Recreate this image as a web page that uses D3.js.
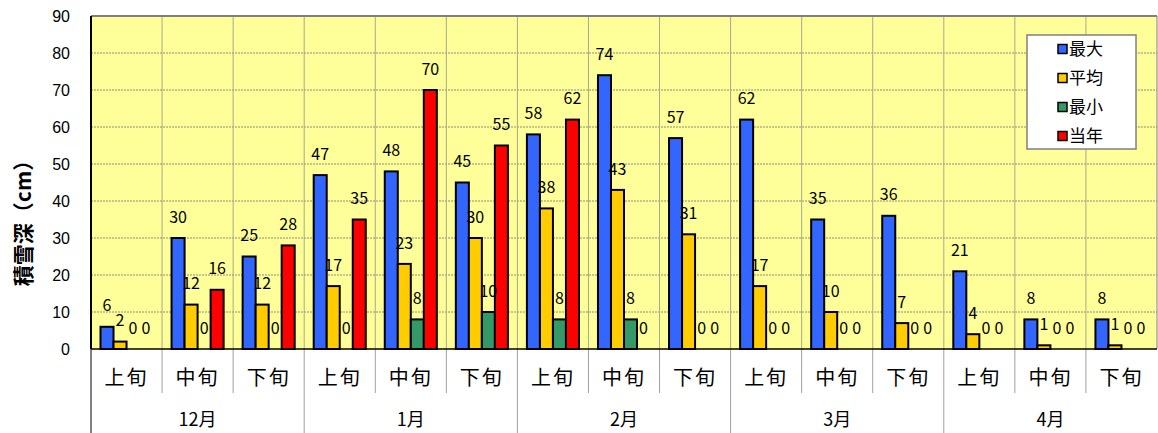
<!DOCTYPE html>
<html>
<head>
<meta charset="utf-8">
<script src="https://cdn.jsdelivr.net/npm/d3@7"></script>
<style>
  body { margin: 0; background: #fff; }
  text { font-family: "Noto Sans CJK JP", "Liberation Sans", sans-serif; }
</style>
</head>
<body>
<svg id="chart" width="1158" height="433"></svg>
<script>
var months = ["12月", "1月", "2月", "3月", "4月"];
var periods = ["上旬", "中旬", "下旬"];
var seriesNames = ["最大", "平均", "最小", "当年"];
var yTicks = [0, 10, 20, 30, 40, 50, 60, 70, 80, 90];

var maxValues  = [6, 30, 25, 47, 48, 45, 58, 74, 57, 62, 35, 36, 21, 8, 8];
var avgValues  = [2, 12, 12, 17, 23, 30, 38, 43, 31, 17, 10, 7, 4, 1, 1];
var minValues  = [0, 0, 0, 0, 8, 10, 8, 8, 0, 0, 0, 0, 0, 0, 0];
var thisValues = [0, 16, 28, 35, 70, 55, 62, 0, 0, 0, 0, 0, 0, 0, 0];

var colors = ["#3366ff", "#ffcc00", "#339966", "#ff0000"];

var svg = d3.select("#chart"),
    margin = {top: 16, right: 1, bottom: 84, left: 91},
    width = +svg.attr("width") - margin.left - margin.right,
    height = +svg.attr("height") - margin.top - margin.bottom;

var cats = [];
months.forEach(function(m) {
    periods.forEach(function(p) { cats.push(m + p); });
});

var data = cats.map(function(c, i) {
    return {cat: c, period: periods[i % 3], month: months[Math.floor(i / 3)],
            values: [maxValues[i], avgValues[i], minValues[i], thisValues[i]]};
});

var x0 = d3.scaleBand().domain(cats).range([0, width]).padding(0);
var x1 = d3.scaleBand().domain(seriesNames).range([0, x0.bandwidth()])
    .paddingInner(0).paddingOuter(0.73);
var y = d3.scaleLinear().domain([0, 90]).range([height, 0]);

var g = svg.append("g")
    .attr("transform", "translate(" + margin.left + "," + margin.top + ")");

// plot background
g.append("rect")
    .attr("width", width)
    .attr("height", height)
    .attr("fill", "#ffff99");

// horizontal grid
g.selectAll(".hgrid")
    .data(yTicks.filter(function(t) { return t > 0 && t < 90; }))
    .enter().append("line")
    .attr("x1", 0).attr("x2", width)
    .attr("y1", function(d) { return y(d); })
    .attr("y2", function(d) { return y(d); })
    .attr("stroke", "#8c8c7a")
    .attr("stroke-width", 1)
    .attr("stroke-dasharray", "2,1");

// vertical grid at category boundaries
g.selectAll(".vgrid")
    .data(cats.slice(1))
    .enter().append("line")
    .attr("x1", function(d) { return x0(d); })
    .attr("x2", function(d) { return x0(d); })
    .attr("y1", 0).attr("y2", height)
    .attr("stroke", "#a8a890")
    .attr("stroke-width", 1);

// plot border top / right
g.append("line").attr("x1", 0).attr("x2", width).attr("y1", 0).attr("y2", 0)
    .attr("stroke", "#808080").attr("stroke-width", 2);
g.append("line").attr("x1", width).attr("x2", width).attr("y1", 0).attr("y2", height)
    .attr("stroke", "#808080").attr("stroke-width", 1);

// bars
var group = g.selectAll(".grp")
    .data(data)
    .enter().append("g")
    .attr("transform", function(d) { return "translate(" + x0(d.cat) + ",0)"; });

group.selectAll("rect")
    .data(function(d) { return d.values.map(function(v, k) { return {key: seriesNames[k], value: v, k: k}; }); })
    .enter().filter(function(d) { return d.value > 0; })
    .append("rect")
    .attr("x", function(d) { return x1(d.key); })
    .attr("y", function(d) { return y(d.value); })
    .attr("width", x1.bandwidth())
    .attr("height", function(d) { return height - y(d.value); })
    .attr("fill", function(d) { return colors[d.k]; })
    .attr("stroke", "#000")
    .attr("stroke-width", 2);

group.selectAll(".label")
    .data(function(d) { return d.values.map(function(v, k) { return {key: seriesNames[k], value: v, k: k}; }); })
    .enter().append("text")
    .attr("x", function(d) { return x1(d.key) + x1.bandwidth() / 2; })
    .attr("y", function(d) { return y(d.value) - 21; })
    .attr("dy", ".35em")
    .attr("text-anchor", "middle")
    .style("font-size", "16px")
    .style("fill", "#000")
    .text(function(d) { return d.value; });

// y axis
g.append("line").attr("x1", 0).attr("x2", 0).attr("y1", 0).attr("y2", height)
    .attr("stroke", "#000").attr("stroke-width", 2);

g.selectAll(".ytick")
    .data(yTicks)
    .enter().append("text")
    .attr("x", -21)
    .attr("y", function(d) { return y(d); })
    .attr("dy", ".35em")
    .attr("text-anchor", "end")
    .style("font-family", "'Liberation Sans', Arial, sans-serif")
    .style("font-size", "16px")
    .text(function(d) { return d; });

svg.append("text")
    .attr("transform", "translate(31,218) rotate(-90)")
    .attr("text-anchor", "middle")
    .style("font-size", "21px")
    .style("font-weight", "bold")
    .text("積雪深（cm）");

// category axis
var axisG = g.append("g").attr("transform", "translate(0," + height + ")");

axisG.selectAll(".subdiv")
    .data(cats)
    .enter().append("line")
    .attr("x1", function(d) { return x0(d); })
    .attr("x2", function(d) { return x0(d); })
    .attr("y1", 0)
    .attr("y2", function(d, i) { return i % 3 === 0 ? margin.bottom : 44; })
    .attr("stroke", "#a0a0a0")
    .attr("stroke-width", 1);

axisG.append("line").attr("x1", 0).attr("x2", 0).attr("y1", 0).attr("y2", margin.bottom)
    .attr("stroke", "#808080").attr("stroke-width", 2);

axisG.append("line").attr("x1", 0).attr("x2", width).attr("y1", 0).attr("y2", 0)
    .attr("stroke", "#000").attr("stroke-width", 1.5);

axisG.selectAll(".ptext")
    .data(data)
    .enter().append("text")
    .attr("x", function(d) { return x0(d.cat) + x0.bandwidth() / 2; })
    .attr("y", 29)
    .attr("dy", ".35em")
    .attr("text-anchor", "middle")
    .style("font-size", "20px")
    .style("letter-spacing", "2px")
    .text(function(d) { return d.period; });

axisG.selectAll(".mtext")
    .data(months)
    .enter().append("text")
    .attr("x", function(d, i) { return x0(cats[i * 3 + 1]) + x0.bandwidth() / 2; })
    .attr("y", 71)
    .attr("dy", ".35em")
    .attr("text-anchor", "middle")
    .style("font-size", "18px")
    .text(function(d) { return d; });

// legend
var legend = svg.append("g").attr("transform", "translate(1027,35)");
legend.append("rect")
    .attr("width", 109).attr("height", 114)
    .attr("fill", "#fff")
    .attr("stroke", "#808080")
    .attr("stroke-width", 1.5);

var item = legend.selectAll(".item")
    .data(seriesNames)
    .enter().append("g")
    .attr("transform", function(d, i) { return "translate(31," + (14 + i * 29) + ")"; });

item.append("rect")
    .attr("x", 0).attr("y", -4.5)
    .attr("width", 9).attr("height", 9)
    .attr("fill", function(d, i) { return colors[i]; })
    .attr("stroke", "#000")
    .attr("stroke-width", 1.5);

item.append("text")
    .attr("x", 11)
    .attr("dy", ".35em")
    .style("font-size", "17px")
    .text(function(d) { return d; });
</script>
</body>
</html>
